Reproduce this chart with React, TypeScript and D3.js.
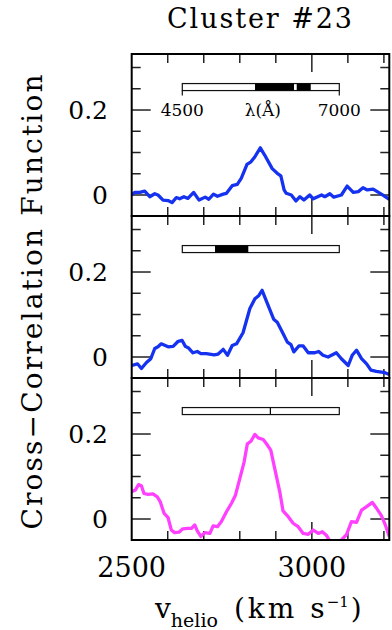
import React, { useEffect, useRef } from "react";
import * as d3 from "d3";

// panel 1 (top, blue)
const vel1 = [2500, 2508, 2522, 2536, 2550, 2564, 2573, 2587, 2601, 2612, 2624, 2633, 2645, 2656, 2672, 2687, 2704, 2714, 2727, 2738, 2754, 2763, 2779, 2793, 2804, 2820, 2831, 2842, 2857, 2869, 2890, 2904, 2914, 2923, 2929, 2943, 2956, 2967, 2978, 2994, 3004, 3027, 3036, 3050, 3061, 3082, 3098, 3115, 3129, 3142, 3154, 3170, 3193, 3215];
const ccf1 = [0.0, 0.006, 0.006, 0.009, -0.004, 0.003, 0.0, -0.012, -0.013, -0.018, -0.006, -0.009, -0.004, -0.008, 0.006, -0.012, -0.005, -0.01, 0.002, -0.003, 0.002, 0.004, 0.022, 0.025, 0.039, 0.072, 0.078, 0.09, 0.111, 0.094, 0.062, 0.051, 0.045, 0.012, 0.004, 0.0, -0.014, -0.004, -0.012, 0.0, -0.009, 0.0, -0.004, 0.003, -0.005, 0.0, 0.021, 0.006, 0.008, 0.017, 0.012, 0.014, 0.002, -0.01];

// panel 2 (middle, blue)
const vel2 = [2500, 2516, 2527, 2541, 2553, 2564, 2573, 2582, 2601, 2615, 2629, 2640, 2649, 2658, 2670, 2682, 2692, 2707, 2729, 2740, 2754, 2766, 2779, 2791, 2809, 2828, 2842, 2853, 2862, 2877, 2894, 2904, 2918, 2932, 2942, 2950, 2964, 2976, 2990, 3008, 3019, 3031, 3045, 3068, 3082, 3101, 3112, 3124, 3138, 3152, 3164, 3179, 3203, 3215];
const ccf2 = [-0.02, -0.016, -0.027, -0.013, -0.004, 0.02, 0.024, 0.031, 0.024, 0.025, 0.037, 0.039, 0.025, 0.021, 0.01, 0.013, 0.008, 0.008, 0.005, 0.007, 0.018, 0.004, 0.027, 0.031, 0.057, 0.114, 0.137, 0.145, 0.157, 0.125, 0.089, 0.082, 0.059, 0.035, 0.029, 0.012, 0.026, 0.026, 0.01, 0.01, 0.013, 0.004, 0.0, 0.01, -0.004, -0.02, 0.004, 0.016, -0.004, -0.016, -0.031, -0.034, -0.037, -0.041];

// panel 3 (bottom, magenta)
const vel3 = [2500, 2510, 2519, 2527, 2534, 2545, 2559, 2571, 2579, 2590, 2601, 2610, 2619, 2631, 2642, 2654, 2666, 2675, 2682, 2692, 2703, 2717, 2726, 2738, 2749, 2763, 2777, 2788, 2800, 2812, 2821, 2831, 2842, 2851, 2865, 2874, 2886, 2899, 2911, 2920, 2932, 2948, 2962, 2976, 2990, 3004, 3018, 3029, 3041, 3048, 3065, 3082, 3096, 3110, 3124, 3138, 3152, 3168, 3179, 3193, 3204, 3215];
const ccf3 = [0.064, 0.068, 0.081, 0.078, 0.06, 0.058, 0.059, 0.052, 0.041, 0.013, 0.003, -0.026, -0.032, -0.031, -0.023, -0.022, -0.022, -0.014, -0.028, -0.041, -0.032, -0.034, -0.016, -0.018, -0.006, 0.017, 0.037, 0.056, 0.095, 0.134, 0.177, 0.183, 0.199, 0.191, 0.187, 0.177, 0.162, 0.111, 0.064, 0.019, 0.008, -0.01, -0.018, -0.034, -0.036, -0.026, -0.034, -0.03, -0.039, -0.049, -0.075, -0.049, -0.037, -0.006, -0.008, 0.021, 0.029, 0.039, 0.026, 0.008, -0.014, -0.041];

// wavelength coverage bars (Å)
const waveRange = [4500, 7000];
const waveSeg1 = [[5658, 6279], [6322, 6545]];
const waveSeg2 = [[5021, 5551]];
const waveSeg3 = [[5893, 5912]];

const xTickLabels = [2500, 3000];
const yTickLabels = [0, 0.2];

const panels = [
  { v: vel1, c: ccf1, seg: waveSeg1, color: "#1432f0", scaleLabels: true },
  { v: vel2, c: ccf2, seg: waveSeg2, color: "#1432f0", scaleLabels: false },
  { v: vel3, c: ccf3, seg: waveSeg3, color: "#ff40ff", scaleLabels: false },
];

const W = 392;
const H = 630;
const FONT = "'DejaVu Serif', serif";

const App: React.FC = () => {
  const svgRef = useRef<SVGSVGElement | null>(null);

  useEffect(() => {
    const svg = d3.select(svgRef.current);
    svg.selectAll("*").remove();

    const left = 131.7;
    const right = 389.3;
    const top = 54;
    const panelH = 162;

    const x = d3.scaleLinear().domain([2500, 3215]).range([left, right]);
    // wavelength inset scale, placed inside each panel
    const xw = d3
      .scaleLinear()
      .domain(waveRange)
      .range([left + 50.6, left + 207.6]);

    panels.forEach((p, i) => {
      const y0 = top + i * panelH;
      const y = d3
        .scaleLinear()
        .domain([-0.0494, 0.3318])
        .range([y0 + panelH, y0]);

      const g = svg.append("g");

      // clip
      const clipId = `clip-${i}`;
      svg
        .append("clipPath")
        .attr("id", clipId)
        .append("rect")
        .attr("x", left)
        .attr("y", y0)
        .attr("width", right - left)
        .attr("height", panelH);

      // ticks: x on top + bottom, y on left + right
      const xt = d3.range(2600, 3201, 100);
      xt.forEach((t) => {
        const len = t === 3000 ? 18 : 9;
        g.append("line")
          .attr("x1", x(t)).attr("x2", x(t))
          .attr("y1", y0).attr("y2", y0 + len)
          .attr("stroke", "#222").attr("stroke-width", 1.5);
        g.append("line")
          .attr("x1", x(t)).attr("x2", x(t))
          .attr("y1", y0 + panelH).attr("y2", y0 + panelH - len)
          .attr("stroke", "#222").attr("stroke-width", 1.5);
      });
      const yt = d3.range(0, 7).map((k) => k * 0.05);
      yt.forEach((t) => {
        const major = Math.abs(t) < 1e-6 || Math.abs(t - 0.2) < 1e-6;
        const len = major ? 19 : 9;
        g.append("line")
          .attr("x1", left).attr("x2", left + len)
          .attr("y1", y(t)).attr("y2", y(t))
          .attr("stroke", "#222").attr("stroke-width", 1.5);
        g.append("line")
          .attr("x1", right).attr("x2", right - len)
          .attr("y1", y(t)).attr("y2", y(t))
          .attr("stroke", "#222").attr("stroke-width", 1.5);
      });

      // y labels
      yTickLabels.forEach((t) => {
        g.append("text")
          .attr("x", 108)
          .attr("y", y(t))
          .attr("dy", "0.36em")
          .attr("text-anchor", "end")
          .style("font-family", FONT)
          .style("font-size", "25px")
          .text(t === 0 ? "0" : String(t));
      });

      // wavelength bar
      const barY = y(0.254);
      const barH = 7;
      g.append("rect")
        .attr("x", xw(waveRange[0]))
        .attr("y", barY - barH / 2)
        .attr("width", xw(waveRange[1]) - xw(waveRange[0]))
        .attr("height", barH)
        .attr("fill", "#fff")
        .attr("stroke", "#111")
        .attr("stroke-width", 1.2);
      p.seg.forEach((s) => {
        g.append("rect")
          .attr("x", xw(s[0]))
          .attr("y", barY - barH / 2)
          .attr("width", xw(s[1]) - xw(s[0]))
          .attr("height", barH)
          .attr("fill", "#000");
      });
      if (p.scaleLabels) {
        waveRange.forEach((w) => {
          g.append("line")
            .attr("x1", xw(w)).attr("x2", xw(w))
            .attr("y1", barY + barH / 2).attr("y2", barY + barH / 2 + 5)
            .attr("stroke", "#111").attr("stroke-width", 1.2);
          g.append("text")
            .attr("x", xw(w))
            .attr("y", barY + 29)
            .attr("text-anchor", "middle")
            .style("font-family", FONT)
            .style("font-size", "17px")
            .text(String(w));
        });
        g.append("text")
          .attr("x", xw(d3.mean(waveRange)!) + 2)
          .attr("y", barY + 29)
          .attr("text-anchor", "middle")
          .style("font-family", FONT)
          .style("font-size", "17px")
          .text("λ(Å)");
      }

      // curve
      const pts = p.v.map((v, k) => [v, p.c[k]] as [number, number]);
      const line = d3
        .line<[number, number]>()
        .x((d) => x(d[0]))
        .y((d) => y(d[1]));
      g.append("path")
        .datum(pts)
        .attr("clip-path", `url(#${clipId})`)
        .attr("fill", "none")
        .attr("stroke", p.color)
        .attr("stroke-width", 3.3)
        .attr("stroke-linejoin", "round")
        .attr("d", line);

      // frame
      g.append("rect")
        .attr("x", left)
        .attr("y", y0)
        .attr("width", right - left)
        .attr("height", panelH)
        .attr("fill", "none")
        .attr("stroke", "#000")
        .attr("stroke-width", 2);
    });

    // x tick labels
    const bottom = top + 3 * panelH;
    xTickLabels.forEach((t) => {
      svg.append("text")
        .attr("x", x(t))
        .attr("y", bottom + 37)
        .attr("text-anchor", "middle")
        .style("font-family", FONT)
        .style("font-size", "27px")
        .text(String(t));
    });

    // title
    svg.append("text")
      .attr("x", 259.5)
      .attr("y", 28)
      .attr("text-anchor", "middle")
      .attr("textLength", 185)
      .attr("lengthAdjust", "spacing")
      .style("font-family", FONT)
      .style("font-size", "27px")
      .text("Cluster #23");

    // y axis title
    svg.append("text")
      .attr("transform", `translate(42, ${302}) rotate(-90)`)
      .attr("text-anchor", "middle")
      .attr("textLength", 455)
      .attr("lengthAdjust", "spacing")
      .style("font-family", FONT)
      .style("font-size", "28px")
      .text("Cross\u2212Correlation Function");

    // x axis title
    const xl = svg.append("text")
      .attr("x", 155)
      .attr("y", 618)
      .style("font-family", FONT)
      .style("font-size", "28px");
    xl.append("tspan").text("v");
    xl.append("tspan").attr("dy", 9).style("font-size", "19px").text("helio");
    xl.append("tspan").attr("dy", -9).attr("dx", 16).style("letter-spacing", "3px").text("(km");
    xl.append("tspan").attr("dx", 13).style("letter-spacing", "0px").text("s");
    xl.append("tspan").attr("dy", -11).attr("dx", 2).style("font-size", "15px").text("\u22121");
    xl.append("tspan").attr("dy", 11).attr("dx", 2).text(")");
  }, []);

  return (
    <div style={{ position: "absolute", left: 0, top: 0 }}>
      <svg ref={svgRef} width={W} height={H} style={{ display: "block", background: "#fff" }}></svg>
    </div>
  );
};

export default App;
